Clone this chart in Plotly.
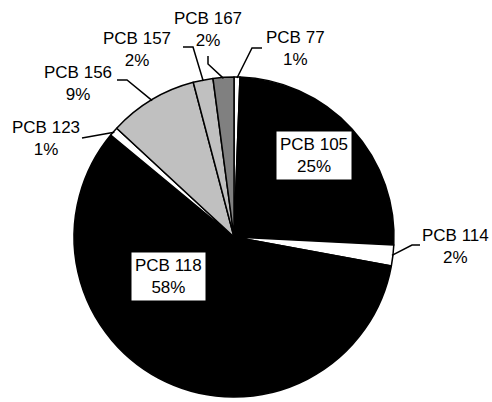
import math
import plotly.graph_objects as go

# ---- data ----
labels = ["PCB 77", "PCB 105", "PCB 114", "PCB 118", "PCB 123", "PCB 156", "PCB 157", "PCB 167"]
values = [0.6, 25.2, 2.1, 58.1, 0.9, 9.0, 2.0, 2.1]
colors = ["#FFFFFF", "#000000", "#FFFFFF", "#000000", "#FFFFFF", "#C0C0C0", "#C0C0C0", "#808080"]

# ---- layout constants (pixels, window coordinates) ----
W, H = 492, 402
CX, CY, R = 234, 237, 160
FONT = "Liberation Sans, Arial, sans-serif"
FS = 17

# label placement: text centre and leader-line elbow points (from text toward pie)
inside_labels = {"PCB 105": (314, 155), "PCB 118": (168, 276)}
outside_labels = {
    "PCB 77": ((295, 49), [(262, 48), (252, 48)]),
    "PCB 167": ((208, 30), [(208, 56), (208, 64)]),
    "PCB 157": ((137, 50), [(183, 47), (193, 47)]),
    "PCB 156": ((78, 84), [(117, 80), (127, 80)]),
    "PCB 123": ((46, 139), [(82, 138), (110, 133)]),
    "PCB 114": ((455, 246), [(420, 245), (412, 245)]),
}


def px(x, y):
    return x / W, 1 - y / H


total = sum(values)
fig = go.Figure()
x0, y1 = px(CX - R, CY - R)
x1, y0 = px(CX + R, CY + R)
fig.add_trace(go.Pie(
    labels=labels, values=values, sort=False, direction="clockwise", rotation=0,
    marker=dict(colors=colors, line=dict(color="#000000", width=1.5)),
    textinfo="none", hoverinfo="label+percent", showlegend=False,
    domain=dict(x=[x0, x1], y=[y0, y1]),
))

annotations = []
shapes = []
cum = 0.0
for lab, v in zip(labels, values):
    mid = 2 * math.pi * (cum + v / 2) / total
    cum += v
    pct = f"{round(v / total * 100):.0f}%"
    txt = f"{lab}<br>{pct}"
    if lab in inside_labels:
        tx, ty = inside_labels[lab]
        x, y = px(tx, ty)
        annotations.append(dict(x=x, y=y, xref="paper", yref="paper", text=txt, showarrow=False,
                                xanchor="center", yanchor="middle", bgcolor="#FFFFFF",
                                borderpad=3, font=dict(family=FONT, size=FS, color="#000000")))
    elif lab in outside_labels:
        (tx, ty), elbows = outside_labels[lab]
        x, y = px(tx, ty)
        annotations.append(dict(x=x, y=y, xref="paper", yref="paper", text=txt, showarrow=False,
                                xanchor="center", yanchor="middle",
                                font=dict(family=FONT, size=FS, color="#000000")))
        ex = CX + (R - 1) * math.sin(mid)
        ey = CY - (R - 1) * math.cos(mid)
        pts = elbows + [(ex, ey)]
        path = ""
        for i, (a, b) in enumerate(pts):
            pxx, pyy = px(a, b)
            path += ("M" if i == 0 else " L") + f"{pxx:.5f},{pyy:.5f}"
        shapes.append(dict(type="path", path=path, xref="paper", yref="paper",
                           line=dict(color="#000000", width=1.5)))

fig.update_layout(
    width=W, height=H, margin=dict(l=0, r=0, t=0, b=0),
    paper_bgcolor="#FFFFFF", plot_bgcolor="#FFFFFF",
    annotations=annotations, shapes=shapes,
)
fig.write_html(
    "out.html",
    config={"displayModeBar": False},
    post_script="document.body.style.margin='0';document.body.style.overflow='hidden';",
)
